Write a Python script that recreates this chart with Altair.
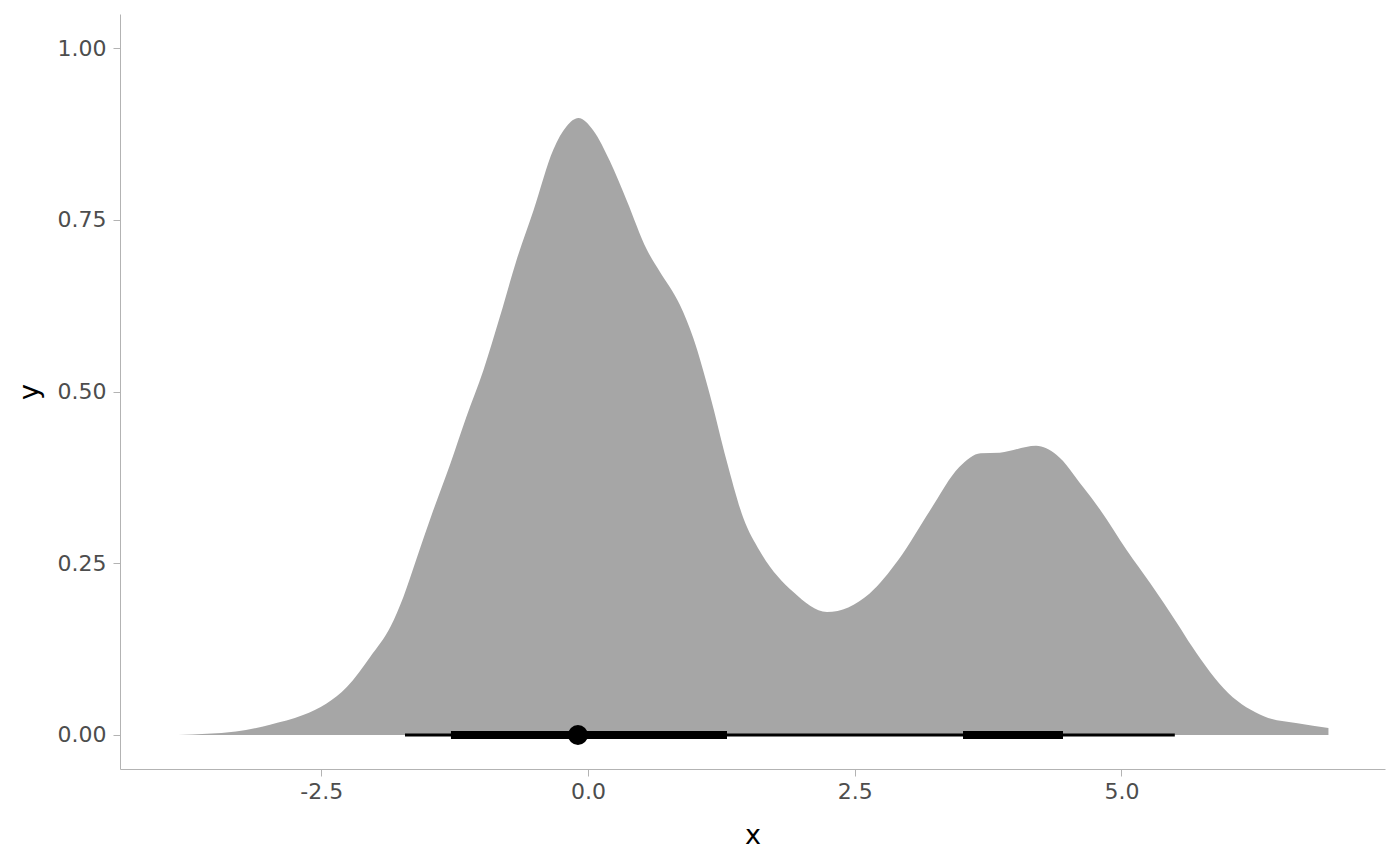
import altair as alt
import pandas as pd

# density curve
dens_x = [-3.84, -3.30, -2.98, -2.67, -2.45, -2.26, -2.04, -1.85, -1.73, -1.61, -1.45, -1.29, -1.14,
          -0.98, -0.825, -0.67, -0.51, -0.325, -0.20, -0.09, 0.05, 0.206, 0.363, 0.55, 0.675, 0.862,
          0.987, 1.143, 1.30, 1.456, 1.61, 1.925, 2.24, 2.64, 2.91, 3.21, 3.48, 3.68, 3.86, 4.20,
          4.39, 4.64, 4.80, 5.05, 5.27, 5.52, 5.66, 6.0, 6.34, 6.65, 6.94]
dens_y = [0.0, 0.005, 0.015, 0.029, 0.046, 0.070, 0.114, 0.158, 0.201, 0.255, 0.327, 0.395, 0.463,
          0.531, 0.609, 0.691, 0.764, 0.852, 0.886, 0.898, 0.880, 0.835, 0.778, 0.707, 0.674, 0.626,
          0.578, 0.495, 0.399, 0.316, 0.268, 0.208, 0.179, 0.206, 0.255, 0.328, 0.39, 0.41, 0.411, 0.421,
          0.408, 0.361, 0.328, 0.269, 0.221, 0.163, 0.129, 0.061, 0.027, 0.017, 0.010]

# intervals
thin_lo = [-1.715]
thin_hi = [5.50]
thick_lo = [-1.284, 3.515]
thick_hi = [1.303, 4.452]
point_x = [-0.094]

x_ticks = [-2.5, 0.0, 2.5, 5.0]
y_ticks = [0.0, 0.25, 0.5, 0.75, 1.0]

dens = pd.DataFrame({"x": dens_x, "y": dens_y})
thin = pd.DataFrame({"lo": thin_lo, "hi": thin_hi, "y": [0.0] * len(thin_lo)})
thick = pd.DataFrame({"lo": thick_lo, "hi": thick_hi, "y": [0.0] * len(thick_lo)})
pt = pd.DataFrame({"x": point_x, "y": [0.0] * len(point_x)})

xs = alt.Scale(domain=[-4.386, 7.47], nice=False, zero=False)
ys = alt.Scale(domain=[-0.0495, 1.0495], nice=False, zero=False)

xaxis = alt.Axis(values=x_ticks, title="x", labelPadding=5, titlePadding=20,
                 labelExpr="replace(format(datum.value, '.1f'), '\u2212', '-')")
yaxis = alt.Axis(values=y_ticks, format=".2f", title="y", labelPadding=7, titlePadding=14)

area = alt.Chart(dens).mark_area(color="#a6a6a6", interpolate="monotone").encode(
    x=alt.X("x:Q", scale=xs, axis=xaxis),
    y=alt.Y("y:Q", scale=ys, axis=yaxis),
    y2=alt.datum(0),
)

thin_rule = alt.Chart(thin).mark_rule(color="black", strokeWidth=3, strokeCap="butt").encode(
    x=alt.X("lo:Q", scale=xs), x2="hi:Q", y=alt.Y("y:Q", scale=ys)
)
thick_rule = alt.Chart(thick).mark_rule(color="black", strokeWidth=8, strokeCap="butt").encode(
    x=alt.X("lo:Q", scale=xs), x2="hi:Q", y=alt.Y("y:Q", scale=ys)
)
point = alt.Chart(pt).mark_circle(color="black", opacity=1, size=400).encode(
    x=alt.X("x:Q", scale=xs), y=alt.Y("y:Q", scale=ys)
)

chart = alt.layer(area, thin_rule, thick_rule, point).properties(
    width=1265, height=755,
    autosize=alt.AutoSizeParams(type="none"),
    padding={"left": 112, "top": 6, "right": 7, "bottom": 89},
).configure_view(stroke=None).configure_axis(
    grid=False,
    domainColor="#b3b3b3",
    tickColor="#b3b3b3",
    tickSize=7,
    labelColor="#4d4d4d",
    labelFontSize=22,
    labelFont="DejaVu Sans",
    titleFont="DejaVu Sans",
    titleFontSize=27,
    titleFontWeight="normal",
    titleColor="black",
)

chart.save("out.html", embed_options={"renderer": "svg", "actions": False})
